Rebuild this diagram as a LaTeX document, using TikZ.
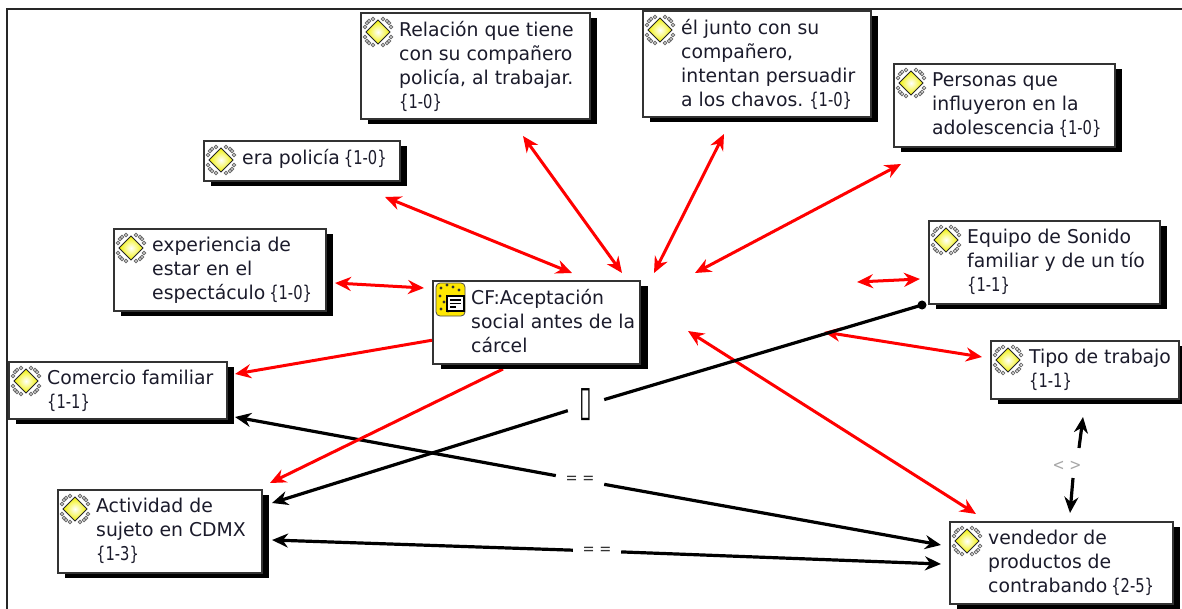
\documentclass[tikz,border=0pt]{standalone}
\usepackage{fontspec}
\setmainfont[FakeStretch=1.10]{DejaVu Sans Condensed}
\newfontfamily\symfont{DejaVu Sans}
\newfontfamily\tagfamily{DejaVu Sans Condensed}
\usetikzlibrary{arrows.meta}
\definecolor{txt}{HTML}{1B1B2B}
\newcommand{\tagtxt}[1]{\scalebox{.86}[1]{\tagfamily\fontsize{19}{24}\selectfont\{#1\}}}
\tikzset{
 boxshadow/.style={fill=black,draw=none},
 boxface/.style={fill=white,draw=black!80,line width=1.8pt},
 boxtext/.style={anchor=north west,inner sep=0pt,align=left,text=txt,font=\fontsize{19}{24}\selectfont},
 redline/.style={draw=red,line width=3pt},
 blackline/.style={draw=black,line width=3.2pt},
 tip/.style={-{Stealth[length=16pt,width=14pt]}},
 tips/.style={{Stealth[length=16pt,width=14pt]}-{Stealth[length=16pt,width=14pt]}},
 gaplabel/.style={inner xsep=0pt,inner ysep=0pt,text=black!80,font=\tagfamily\fontsize{16}{16}\selectfont},
}
\newcommand{\iconknot}[2]{%
 \draw[black!60,line width=0.8pt,fill=white] (#1,#2) circle (1.8pt);}
\newcommand{\concepticon}[2]{%
 \begin{scope}[shift={(#1,#2)}]
  \foreach \a/\b in {-11/-9,-9/-11,11/-9,9/-11,-11/9,-9/11,11/9,9/11,-5/-13,5/-13,-5/13,5/13,-13/-5,13/-5,-13/5,13/5}{\iconknot{\a}{\b}}
  \draw[black!85,line width=1pt,inner color=white,outer color=yellow!95!black] (0,-12) -- (12,0) -- (0,12) -- (-12,0) -- cycle;
 \end{scope}}
\newcommand{\concept}[6]{%
 \fill[boxshadow] (#2+8,#3+6) rectangle (#4+8,#5+6);
 \node[boxface,anchor=north west,minimum width={(#4-#2)*1pt},minimum height={(#5-#3)*1pt},inner sep=0pt] (#1) at (#2,#3) {};
 \concepticon{#2+18}{#3+20}
 \node[boxtext] (#1text) at (#2+39,#3+9) {#6};
}
\begin{document}
\begin{tikzpicture}[x=1pt,y=-1pt]
\useasboundingbox (0,0) rectangle (1182,609);
\fill[white] (0,0) rectangle (1182,609);
\draw[black!85,line width=2pt] (7,609) -- (7,9) -- (1182,9);
\foreach \n/\x/\y in {relA/523/136,relB/622/273,elA/724/134,elB/654/273,perA/901/164,perB/695/273,
 eraA/385/197,eraB/572/273,expA/335/283,expB/424/288,equA/857/282,equB/920/279,
 comA/235/374,actS/503/369,actA/270/483,tipA/824/332,tipB/982/357,venA/688/331,venB/976/514,
 dot/922/305,actB/272/503,comB/235/417,venC/941/545,actC/272/540,venD/941/564,
 tipC/1083/417,gapA/1079/448,gapB/1073/478,venE/1070/513}{\coordinate (\n) at (\x,\y);}
\node[gaplabel,minimum width=36pt,minimum height=18pt,text=black,font=\symfont\fontsize{20}{20}\selectfont] (square) at (586,405) {\scalebox{1.15}[2.1]{▯}};
\node[gaplabel,minimum width=48pt,minimum height=12pt] (eqone) at (580,480) {= =};
\node[gaplabel,minimum width=48pt,minimum height=12pt] (eqtwo) at (597,551) {= =};
\node[gaplabel,text=black!35] (neq) at (1067,466) {< >};
\draw[redline,tips] (relA) -- (relB);
\draw[redline,tips] (elA) -- (elB);
\draw[redline,tips] (perA) -- (perB);
\draw[redline,tips] (eraA) -- (eraB);
\draw[redline,tips] (expA) -- (expB);
\draw[redline,tips] (equA) -- (equB);
\draw[redline,tips] (venA) -- (venB);
\draw[redline,tips] (tipA) -- (tipB);
\fill[black] (dot) circle (4.5pt);
\draw[blackline] (dot) -- (square);
\draw[blackline,tip] (square) -- (actB);
\draw[blackline,tip] (eqone) -- (comB);
\draw[blackline,tip] (eqone) -- (venC);
\draw[blackline,tip] (eqtwo) -- (actC);
\draw[blackline,tip] (eqtwo) -- (venD);
\draw[blackline,tip] (gapA) -- (tipC);
\draw[blackline,tip] (gapB) -- (venE);
\draw[redline,tip] (actS) -- (actA);
\concept{rel}{360}{12}{589}{118}{Relación que tiene\\con su compañero\\policía, al trabajar.\\\tagtxt{1-0}}
\concept{el}{642}{10}{870}{116}{él junto con su\\compañero,\\intentan persuadir\\a los chavos.\hspace{-2pt} \tagtxt{1-0}}
\concept{per}{893}{63}{1114}{146}{Personas que\\influyeron en la\\adolescencia\hspace{-2pt} \tagtxt{1-0}}
\concept{era}{203}{140}{399}{180}{era policía\hspace{-2pt} \tagtxt{1-0}}
\concept{exp}{113}{228}{325}{310}{experiencia de\\estar en el\\espectáculo\hspace{-2pt} \tagtxt{1-0}}
\concept{equ}{928}{220}{1159}{303}{Equipo de Sonido\\familiar y de un tío\\\tagtxt{1-1}}
\concept{tipo}{990}{340}{1178}{398}{Tipo de trabajo\\\tagtxt{1-1}}
\concept{com}{8}{361}{226}{418}{Comercio familiar\\\tagtxt{1-1}}
\concept{act}{57}{489}{261}{572}{Actividad de\\sujeto en CDMX\\\tagtxt{1-3}}
\concept{ven}{949}{521}{1172}{603}{vendedor de\\productos de\\contrabando\hspace{-2pt} \tagtxt{2-5}}
\fill[boxshadow] (441,286) rectangle (648,369);
\node[boxface,anchor=north west,minimum width=207pt,minimum height=83pt,inner sep=0pt] (cf) at (432,280) {};
\draw[redline,tip] (cf) -- (comA);
\fill[yellow!90!orange,draw=black!70,rounded corners=4pt,line width=.8pt] (436,283) rectangle (465,316);
\foreach \a/\b in {441/288,447/285,453/287,459/290,440/296,444/302,441/309,448/311}{\fill[black!80] (\a,\b) circle (1.7pt);}
\draw[black,line width=1.2pt,fill=white] (447,296) rectangle (464,311);
\draw[black,line width=1.1pt] (450,300) -- (461,300) (450,303.5) -- (461,303.5) (450,307) -- (456,307);
\node[boxtext] (cftext) at (471,289) {CF:Aceptación\\social antes de la\\cárcel};
\end{tikzpicture}
\end{document}
